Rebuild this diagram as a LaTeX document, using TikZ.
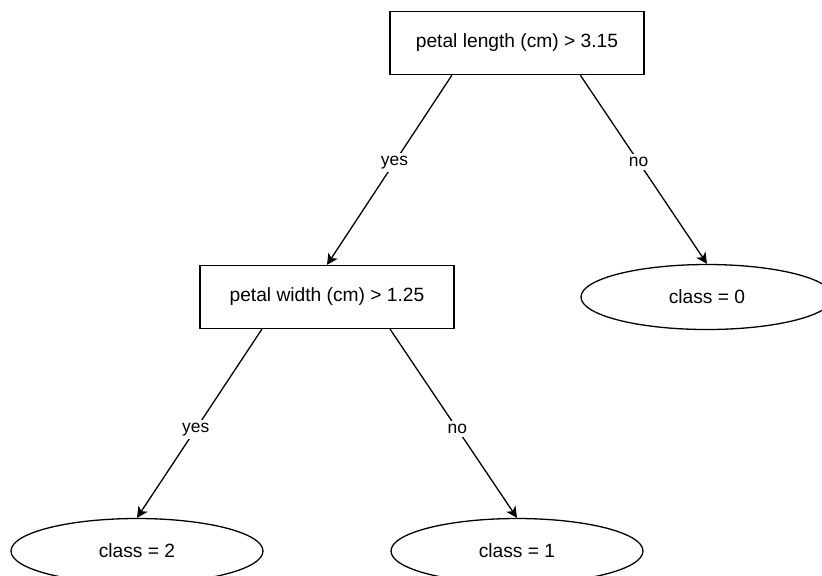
\documentclass[tikz,border=0pt]{standalone}
\usepackage{fontspec}
\setmainfont{Liberation Sans}
\usetikzlibrary{calc,shapes,arrows.meta,positioning}
\tikzset{
     test node/.style={draw, rectangle, inner sep=0pt, minimum width=127pt, minimum height=31.5pt, font=\fontsize{9.6}{11}\selectfont},
     leaf node/.style={draw, ellipse, inner sep=0pt, minimum width=126pt, minimum height=32.5pt, font=\fontsize{9.6}{11}\selectfont},
      treeedge/.style   = {black, -{Stealth[length=5.5pt,width=5.5pt,inset=1.5pt]}},
      edge label/.style = {fill=white, inner sep=1.5pt, font=\fontsize{8.7}{10}\selectfont},
    }

\begin{document}
\begin{tikzpicture}[node distance=127pt and 95pt,on grid,line width=0.65pt]
        % root sits at the origin
        \useasboundingbox (-258.5pt,21.5pt) rectangle (152.5pt,-266pt);

        \node [test node] (root) at (0,0)            {petal length (cm) > 3.15};
        \node [test node] (pw) [below left=of root]  {petal width (cm) > 1.25};
        \node [leaf node] (c0) [below right=of root] {class = 0};

        \node [leaf node] (c2) [below left=of pw]    {class = 2};
        \node [leaf node] (c1) [below right=of pw]   {class = 1};

        \path[treeedge]
        ($(root.south west)!.245!(root.south east)$) edge node [edge label, pos=.46] {yes} (pw.north)
        ($(root.south west)!.748!(root.south east)$) edge node [edge label, pos=.46] {no}  (c0.north)

        ($(pw.south west)!.245!(pw.south east)$) edge node [edge label, pos=.53] {yes} (c2.north)
        ($(pw.south west)!.747!(pw.south east)$) edge node [edge label, pos=.53] {no}  (c1.north);
    \end{tikzpicture}
\end{document}
